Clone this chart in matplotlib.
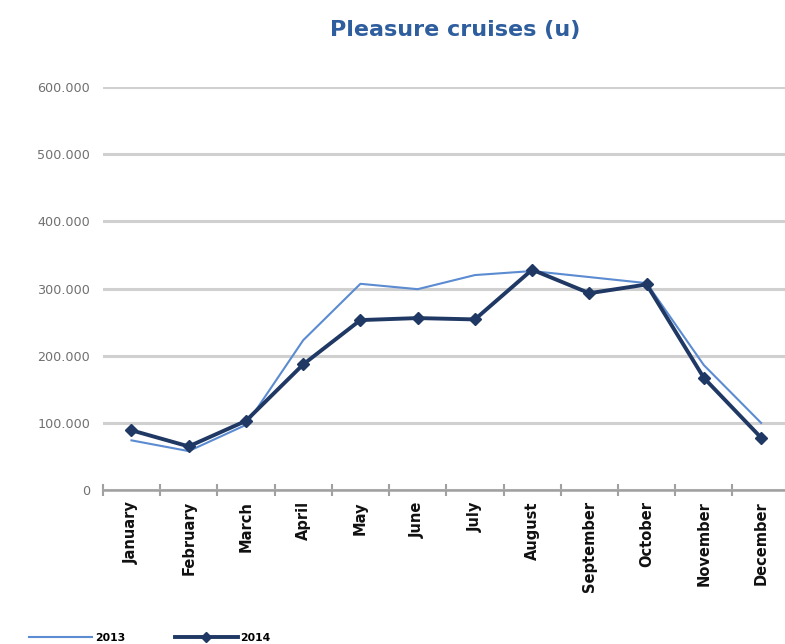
import matplotlib
matplotlib.use("Agg")
import matplotlib.pyplot as plt
from matplotlib.ticker import FuncFormatter, FixedLocator
from matplotlib.lines import Line2D

months = ["January", "February", "March", "April", "May", "June", "July",
          "August", "September", "October", "November", "December"]
values_2013 = [74000, 58000, 97000, 223000, 307000, 299000, 320000,
               326000, 317000, 308000, 186000, 100000]
values_2014 = [89000, 65000, 103000, 187000, 253000, 256000, 254000,
               328000, 293000, 306000, 167000, 78000]
series_names = ["2013", "2014"]
title = "Pleasure cruises (u)"

fig = plt.figure(figsize=(7.85, 6.44), dpi=100)
ax = fig.add_axes([0.131, 0.239, 0.875, 0.626])

x = list(range(len(months)))
ax.plot(x, values_2013, color="#5B8BD0", lw=1.5, zorder=3)
ax.plot(x, values_2014, color="#1F3864", lw=2.8, marker="D", markersize=6,
        zorder=4)

ax.set_xlim(-0.5, len(months) - 0.5)
ax.set_ylim(0, 600000)
ax.set_yticks(range(0, 600001, 100000))
ax.yaxis.set_major_formatter(FuncFormatter(
    lambda v, p: "0" if v == 0 else f"{int(v):,}".replace(",", ".")))
ax.grid(axis="y", color="#D0D0D0", lw=2.2, zorder=0)
ax.set_axisbelow(True)

ax.set_xticks(x)
ax.set_xticklabels(months, rotation=90, fontsize=10.5, color="#111111",
                   fontweight="semibold")
ax.xaxis.set_minor_locator(FixedLocator([i - 0.5 for i in range(len(months) + 1)]))
ax.tick_params(axis="x", which="major", length=0, pad=8)
ax.tick_params(axis="x", which="minor", length=9, direction="inout",
               color="#A0A0A0", width=1.5)
ax.tick_params(axis="y", length=0, pad=9, labelsize=9.2, labelcolor="#707070")

for s in ["top", "right", "left"]:
    ax.spines[s].set_visible(False)
ax.spines["bottom"].set_color("#A0A0A0")
ax.spines["bottom"].set_linewidth(1.8)

fig.text(0.58, 0.953, title, ha="center", va="center", fontsize=16,
         fontweight="bold", color="#2E5E9E")

handles = [Line2D([0], [0], color="#5B8BD0", lw=1.5),
           Line2D([0], [0], color="#1F3864", lw=2.8, marker="D", markersize=5)]
fig.legend(handles, series_names, loc="lower left", bbox_to_anchor=(0.025, -0.014),
           ncol=2, frameon=False, prop={"size": 7.8, "weight": "bold"},
           handlelength=5.8, handletextpad=0.25, columnspacing=4.6)

fig.savefig("out.png", dpi=100)
